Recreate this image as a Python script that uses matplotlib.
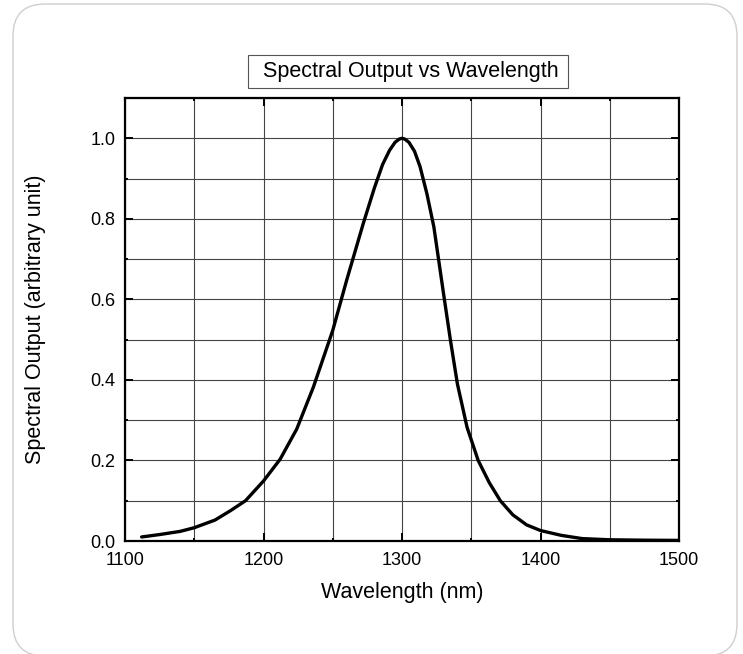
import numpy as np
import matplotlib
matplotlib.use("Agg")
import matplotlib.pyplot as plt
from matplotlib.patches import FancyBboxPatch, Rectangle
from matplotlib.ticker import MultipleLocator, FormatStrFormatter

plt.rcParams['font.family'] = ['Liberation Sans', 'DejaVu Sans']

# spectrum
wavelength = [1112, 1125, 1140, 1150, 1165, 1176, 1187, 1200, 1212, 1224, 1236, 1250,
              1260, 1272, 1280, 1286, 1291, 1295, 1298, 1300, 1302, 1305, 1309, 1313, 1318,
              1323, 1330, 1335, 1340, 1347, 1355, 1363, 1371, 1380, 1390, 1400, 1415, 1430,
              1450, 1475, 1500]
output = [0.010, 0.016, 0.024, 0.033, 0.052, 0.075, 0.100, 0.149, 0.203, 0.278, 0.382, 0.523,
          0.647, 0.788, 0.876, 0.935, 0.970, 0.990, 0.998, 1.000, 0.998, 0.990, 0.968, 0.930, 0.862,
          0.780, 0.614, 0.498, 0.390, 0.282, 0.200, 0.145, 0.100, 0.065, 0.040, 0.026, 0.014, 0.006,
          0.003, 0.002, 0.0015]

title = "Spectral Output vs Wavelength"
xlabel = "Wavelength (nm)"
ylabel = "Spectral Output (arbitrary unit)"

fig = plt.figure(figsize=(7.43, 6.54), dpi=100)

# rounded frame round the whole picture (pixel coords, origin bottom-left)
frame = FancyBboxPatch((13, -2), 724, 652, boxstyle="round,pad=0,rounding_size=32",
                       transform=None, fc='none', ec='#cfcfcf', lw=1.0)
fig.add_artist(frame)

ax = fig.add_axes([125 / 743, 1 - 541 / 654, 554 / 743, 443 / 654])
ax.plot(wavelength, output, color='black', lw=2.4, solid_joinstyle='round',
        solid_capstyle='round', zorder=3)

ax.set_xlim(1100, 1500)
ax.set_ylim(0, 1.1)
ax.xaxis.set_major_locator(MultipleLocator(100))
ax.xaxis.set_minor_locator(MultipleLocator(50))
ax.yaxis.set_major_locator(MultipleLocator(0.2))
ax.yaxis.set_minor_locator(MultipleLocator(0.1))
ax.yaxis.set_major_formatter(FormatStrFormatter('%.1f'))
ax.grid(True, which='both', color='#444444', lw=0.8)
ax.tick_params(which='both', direction='in', top=True, right=True, width=1.4, labelsize=13)
ax.tick_params(which='major', length=6)
ax.tick_params(which='minor', length=2.5)
ax.tick_params(axis='x', pad=8)
ax.tick_params(axis='y', pad=7)
for s in ax.spines.values():
    s.set_linewidth(1.6)

ax.set_xlabel(xlabel, fontsize=15.5, labelpad=9)
ax.set_ylabel(ylabel, fontsize=15.5, labelpad=32)

# boxed title
fig.add_artist(Rectangle((248, 654 - 88), 320, 33, transform=None,
                         fc='white', ec='#555555', lw=0.8))
fig.text(411 / 743, 1 - 71.5 / 654, title, fontsize=15.5, ha='center', va='center')

fig.savefig("out.png", dpi=100)
